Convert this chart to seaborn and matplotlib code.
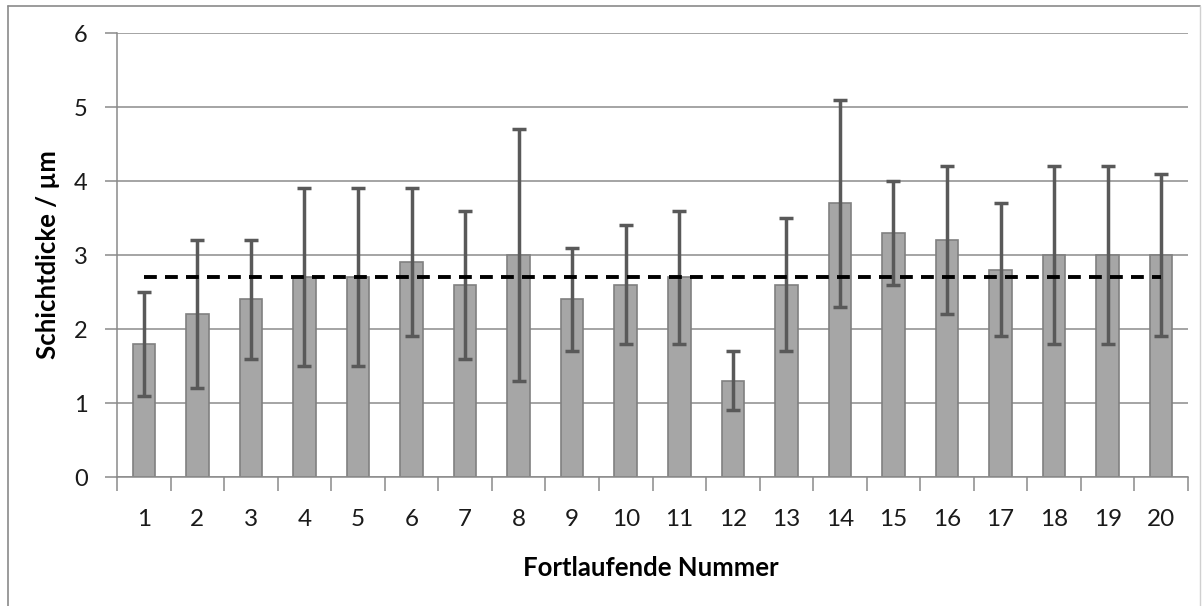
import numpy as np
import pandas as pd
import matplotlib
matplotlib.use("Agg")
import matplotlib.pyplot as plt
import seaborn as sns
from matplotlib.lines import Line2D

# ---- data ----
nummer = [str(i) for i in range(1, 21)]
schichtdicke = [1.8, 2.2, 2.4, 2.7, 2.7, 2.9, 2.6, 3.0, 2.4, 2.6,
                2.7, 1.3, 2.6, 3.7, 3.3, 3.2, 2.8, 3.0, 3.0, 3.0]
fehler = [0.7, 1.0, 0.8, 1.2, 1.2, 1.0, 1.0, 1.7, 0.7, 0.8,
          0.9, 0.4, 0.9, 1.4, 0.7, 1.0, 0.9, 1.2, 1.2, 1.1]
mittelwert = 2.7
y_ticks = [0, 1, 2, 3, 4, 5, 6]

sns.set_theme(style="white")
plt.rcParams['font.family'] = ['Lato', 'DejaVu Sans']

df = pd.DataFrame({"Nummer": nummer, "Schichtdicke": schichtdicke})

W, H = 1202, 606
fig = plt.figure(figsize=(W / 100, H / 100), dpi=100)
ax = fig.add_axes([117 / W, 1 - 477 / H, (1188 - 117) / W, (477 - 33) / H])

sns.barplot(data=df, x="Nummer", y="Schichtdicke", ax=ax, color="#a6a6a6",
            saturation=1, width=0.42, edgecolor="#808080", linewidth=1.2,
            errorbar=None, zorder=2)

xs = np.arange(len(nummer))
ax.errorbar(xs, schichtdicke, yerr=fehler, fmt="none", ecolor="#595959",
            elinewidth=2.5, capsize=5, capthick=2.5, zorder=3)

ax.plot([xs[0], xs[-1]], [mittelwert, mittelwert], color="black",
        linestyle=(0, (3.3, 2.1)), linewidth=2.8, zorder=4)

ax.set_xlim(-0.5, len(nummer) - 0.5)
ax.set_ylim(0, 6)
ax.set_yticks(y_ticks)
ax.set_yticklabels([str(t) for t in y_ticks])
ax.yaxis.grid(True, color="#8c8c8c", linewidth=1.1, zorder=0)
ax.set_axisbelow(True)

for s in ["top", "right"]:
    ax.spines[s].set_visible(False)
for s in ["left", "bottom"]:
    ax.spines[s].set_color("#8a8a8a")
    ax.spines[s].set_linewidth(1.1)

# x ticks: labels at centers, tick marks at boundaries
ax.set_xticks(xs)
ax.set_xticklabels(nummer)
ax.tick_params(axis="x", which="major", length=0, pad=23, labelsize=17.5, labelcolor="#1a1a1a")
ax.set_xticks(np.arange(-0.5, len(nummer)), minor=True)
ax.tick_params(axis="x", which="minor", length=10, width=1.1, color="#8a8a8a", direction="out", bottom=True)
ax.tick_params(axis="y", which="major", length=9, width=1.1, color="#8a8a8a", direction="out",
               pad=12, labelsize=17, labelcolor="#1a1a1a", left=True)

ax.set_xlabel("Fortlaufende Nummer", fontsize=18.5, fontweight="bold", color="black")
ax.xaxis.set_label_coords((651 - 117) / 1071, (477 - 556) / 444)
ax.xaxis.label.set_va("top")

ax.set_ylabel("Schichtdicke / µm", fontsize=18.5, fontweight="bold", color="black")
ax.yaxis.set_label_coords((48 - 117) / 1071, (477 - 255) / 444)
ax.yaxis.label.set_va("center")

# outer frame
fig.add_artist(Line2D([8 / W, 1200 / W], [1 - 6 / H, 1 - 6 / H], transform=fig.transFigure,
                      color="#8a8a8a", linewidth=1.2))
fig.add_artist(Line2D([8 / W, 8 / W], [0, 1 - 6 / H], transform=fig.transFigure,
                      color="#8a8a8a", linewidth=1.2))
fig.add_artist(Line2D([1200 / W, 1200 / W], [0, 1 - 6 / H], transform=fig.transFigure,
                      color="#d0d0d0", linewidth=1.0))

fig.savefig("out.png", dpi=100, facecolor="white")
